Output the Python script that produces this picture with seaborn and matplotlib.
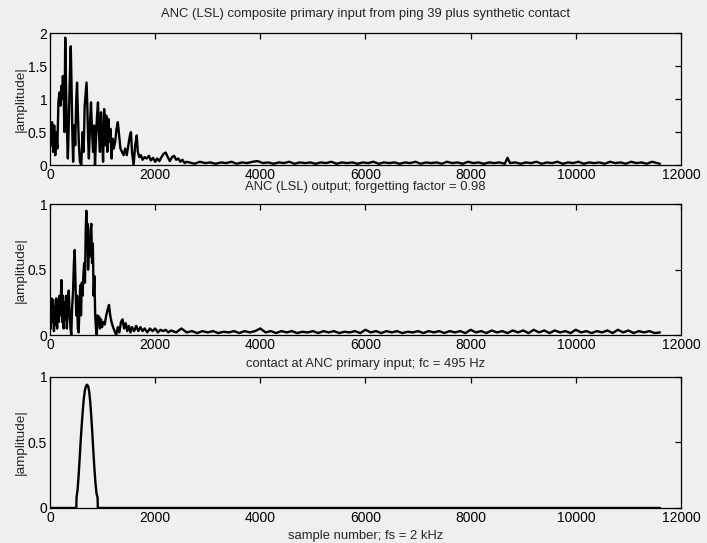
import matplotlib
matplotlib.use("Agg")
import matplotlib.pyplot as plt
import seaborn as sns
import pandas as pd

# ---- composite primary input (ping 39 + synthetic contact) ----
top_samples = [0, 20, 40, 60, 80, 100, 120, 140, 160, 180, 200, 215, 230, 245, 260, 275,
               290, 305, 320, 340, 360, 380, 395, 410, 425, 440, 460, 480, 500, 515, 530,
               550, 570, 595, 620, 640, 660, 680, 695, 710, 725, 740, 760, 780, 800, 820,
               840, 856, 875, 895, 913, 930, 950, 970, 990, 1010, 1030, 1050, 1070, 1090,
               1110, 1130, 1150, 1170, 1190, 1210, 1240, 1265, 1290, 1315, 1340, 1370,
               1400, 1430, 1460, 1490, 1520, 1540, 1560, 1590, 1620, 1650, 1670, 1700,
               1730, 1760, 1800, 1840, 1880, 1920, 1960, 2000, 2040, 2080, 2120, 2160,
               2200, 2240, 2280, 2320, 2360, 2400, 2440, 2480, 2520, 2560, 2600,
               2650, 2750, 2850, 2950, 3050, 3150, 3250, 3350, 3450, 3550, 3650, 3750,
               3850, 3950, 4050, 4150, 4250, 4350, 4450, 4550, 4650, 4750, 4850, 4950,
               5050, 5150, 5250, 5350, 5450, 5550, 5650, 5750, 5850, 5950, 6050, 6150,
               6250, 6350, 6450, 6550, 6650, 6750, 6850, 6950, 7050, 7150, 7250, 7350,
               7450, 7550, 7650, 7750, 7850, 7950, 8050, 8150, 8250, 8350, 8450, 8550,
               8650, 8700, 8750, 8850, 8950, 9050, 9150, 9250, 9350, 9450, 9550, 9650,
               9750, 9850, 9950, 10050, 10150, 10250, 10350, 10450, 10550, 10650, 10750,
               10850, 10950, 11050, 11150, 11250, 11350, 11450, 11550, 11600]
top_amp = [0.55, 0.30, 0.65, 0.20, 0.60, 0.15, 0.50, 0.25, 0.95, 1.10, 0.90, 1.20, 1.00,
           1.35, 1.10, 0.50, 1.93, 1.20, 0.60, 0.10, 0.70, 1.40, 1.80, 1.20, 0.50, 0.05,
           0.60, 0.30, 1.00, 1.25, 0.80, 0.30, 0.05, 0.00, 0.50, 0.20, 0.90, 1.10, 1.25,
           0.90, 0.40, 0.10, 0.60, 0.95, 0.50, 0.20, 0.60, 0.00, 0.40, 0.75, 0.95, 0.50,
           0.20, 0.80, 0.40, 0.05, 0.85, 0.30, 0.75, 0.20, 0.70, 0.35, 0.55, 0.10, 0.40,
           0.25, 0.35, 0.55, 0.65, 0.45, 0.25, 0.20, 0.15, 0.25, 0.15, 0.30, 0.45, 0.50,
           0.20, 0.00, 0.30, 0.45, 0.20, 0.12, 0.15, 0.08, 0.12, 0.10, 0.14, 0.07, 0.11,
           0.05, 0.10, 0.06, 0.12, 0.17, 0.19, 0.12, 0.06, 0.12, 0.14, 0.08, 0.10, 0.05,
           0.08, 0.03, 0.05,
           0.04, 0.02, 0.05, 0.03, 0.04, 0.02, 0.04, 0.03, 0.05, 0.02, 0.04, 0.03,
           0.05, 0.06, 0.03, 0.04, 0.02, 0.04, 0.03, 0.05, 0.02, 0.04, 0.03, 0.04,
           0.02, 0.04, 0.03, 0.05, 0.02, 0.04, 0.03, 0.04, 0.02, 0.04, 0.03, 0.05,
           0.02, 0.04, 0.03, 0.04, 0.02, 0.04, 0.03, 0.05, 0.02, 0.04, 0.03, 0.04,
           0.02, 0.05, 0.03, 0.04, 0.02, 0.05, 0.03, 0.04, 0.02, 0.04, 0.03, 0.04,
           0.02, 0.11, 0.03, 0.04, 0.02, 0.04, 0.03, 0.05, 0.02, 0.04, 0.03, 0.05,
           0.02, 0.04, 0.03, 0.05, 0.02, 0.04, 0.03, 0.04, 0.02, 0.05, 0.03,
           0.04, 0.02, 0.05, 0.03, 0.04, 0.02, 0.05, 0.03, 0.02]

# ---- ANC (LSL) output ----
mid_samples = [0, 15, 30, 45, 60, 75, 90, 105, 120, 135, 150, 165, 180, 200, 216, 230,
               245, 260, 275, 290, 305, 320, 340, 356, 370, 390, 405, 420, 440, 455, 470,
               485, 500, 515, 530, 545, 560, 575, 590, 605, 620, 634, 650, 665, 680, 691,
               705, 715, 725, 740, 755, 770, 786, 800, 815, 830, 845, 860, 875, 890, 905,
               920, 935, 950, 970, 990, 1010, 1040, 1070, 1100, 1122, 1145, 1170, 1200,
               1230, 1260, 1290, 1320, 1350, 1380, 1410, 1440, 1470, 1500, 1530, 1560,
               1600, 1640, 1680, 1720, 1760, 1800, 1850, 1900, 1950, 2000, 2050, 2100,
               2150, 2200, 2250, 2300, 2400, 2500, 2600,
               2700, 2800, 2900, 3000, 3100, 3200, 3300, 3400, 3500, 3600, 3700, 3800,
               3900, 4000, 4100, 4200, 4300, 4400, 4500, 4600, 4700, 4800, 4900, 5000,
               5100, 5200, 5300, 5400, 5500, 5600, 5700, 5800, 5900, 6000, 6100, 6200,
               6300, 6400, 6500, 6600, 6700, 6800, 6900, 7000, 7100, 7200, 7300, 7400,
               7500, 7600, 7700, 7800, 7900, 8000, 8100, 8200, 8300, 8400, 8500, 8600,
               8700, 8800, 8900, 9000, 9100, 9200, 9300, 9400, 9500, 9600, 9700, 9800,
               9900, 10000, 10100, 10200, 10300, 10400, 10500, 10600, 10700, 10800,
               10900, 11000, 11100, 11200, 11300, 11400, 11500, 11600]
mid_amp = [0.25, 0.05, 0.28, 0.10, 0.27, 0.03, 0.22, 0.08, 0.28, 0.05, 0.20, 0.10, 0.30,
           0.15, 0.42, 0.10, 0.30, 0.05, 0.25, 0.12, 0.30, 0.05, 0.20, 0.34, 0.20, 0.05,
           0.00, 0.20, 0.35, 0.55, 0.65, 0.40, 0.15, 0.30, 0.05, 0.02, 0.20, 0.38, 0.15,
           0.40, 0.30, 0.45, 0.55, 0.40, 0.80, 0.95, 0.70, 0.85, 0.50, 0.75, 0.60, 0.80,
           0.85, 0.55, 0.70, 0.30, 0.45, 0.15, 0.05, 0.00, 0.15, 0.08, 0.14, 0.05, 0.12,
           0.06, 0.10, 0.08, 0.15, 0.20, 0.23, 0.15, 0.10, 0.06, 0.03, 0.00, 0.06, 0.02,
           0.10, 0.12, 0.05, 0.09, 0.03, 0.07, 0.02, 0.06, 0.03, 0.07, 0.03, 0.06, 0.03,
           0.05, 0.02, 0.05, 0.03, 0.05, 0.02, 0.04, 0.03, 0.04, 0.02, 0.035, 0.02, 0.05,
           0.02,
           0.03, 0.015, 0.03, 0.02, 0.03, 0.015, 0.025, 0.02, 0.03, 0.015, 0.03, 0.02,
           0.03, 0.05, 0.02, 0.03, 0.015, 0.03, 0.02, 0.03, 0.015, 0.025, 0.02, 0.03,
           0.015, 0.03, 0.02, 0.03, 0.015, 0.025, 0.02, 0.03, 0.015, 0.04, 0.02, 0.03,
           0.015, 0.03, 0.02, 0.03, 0.015, 0.025, 0.02, 0.03, 0.015, 0.03, 0.02, 0.03,
           0.015, 0.03, 0.02, 0.03, 0.015, 0.04, 0.02, 0.03, 0.015, 0.035, 0.02, 0.03,
           0.015, 0.035, 0.02, 0.035, 0.015, 0.04, 0.02, 0.035, 0.015, 0.035, 0.02, 0.03,
           0.015, 0.04, 0.02, 0.03, 0.015, 0.03, 0.02, 0.035, 0.015, 0.04, 0.02,
           0.035, 0.015, 0.03, 0.02, 0.03, 0.015, 0.02]

# ---- synthetic contact (fc = 495 Hz) ----
contact_samples = [0, 500, 505, 525, 545, 565, 585, 605, 625, 645, 665, 685, 705, 725,
                   745, 765, 785, 805, 825, 845, 865, 885, 905, 910, 11600]
contact_amp = [0.0, 0.0, 0.08, 0.14, 0.25, 0.38, 0.52, 0.64, 0.75, 0.84, 0.90, 0.93,
               0.94, 0.93, 0.89, 0.81, 0.70, 0.57, 0.43, 0.30, 0.19, 0.11, 0.08, 0.0, 0.0]

titles = ["ANC (LSL) composite primary input from ping 39 plus synthetic contact",
          "ANC (LSL) output; forgetting factor = 0.98",
          "contact at ANC primary input; fc = 495 Hz"]
x_ticks = [0, 2000, 4000, 6000, 8000, 10000, 12000]
y_limits = [2, 1, 1]
y_ticks = [[0, 0.5, 1, 1.5, 2], [0, 0.5, 1], [0, 0.5, 1]]
y_ticklabels = [["0", "0.5", "1", "1.5", "2"], ["0", "0.5", "1"], ["0", "0.5", "1"]]
xlabel = "sample number; fs = 2 kHz"
ylabel = "|amplitude|"

sns.set_theme(style="white")
plt.rcParams["font.family"] = ["Liberation Sans", "DejaVu Sans"]
bg = "#efefef"

fig = plt.figure(figsize=(7.07, 5.43), dpi=100, facecolor=bg)
boxes = [[0.0707, 0.696, 0.8925, 0.243],
         [0.0707, 0.383, 0.8925, 0.241],
         [0.0707, 0.0645, 0.8925, 0.2415]]
title_pads = [11.5, 10.0, 7.0]

series = [(top_samples, top_amp), (mid_samples, mid_amp), (contact_samples, contact_amp)]

for i, (box, (xs, ys)) in enumerate(zip(boxes, series)):
    ax = fig.add_axes(box)
    ax.set_facecolor(bg)
    df = pd.DataFrame({"sample": xs, "amp": ys})
    sns.lineplot(data=df, x="sample", y="amp", ax=ax, color="black",
                 linewidth=1.7, estimator=None, sort=False)
    ax.set_xlim(0, 12000)
    ax.set_ylim(0, y_limits[i])
    ax.set_xticks(x_ticks)
    ax.set_xticklabels([str(t) for t in x_ticks])
    ax.set_yticks(y_ticks[i])
    ax.set_yticklabels(y_ticklabels[i])
    ax.tick_params(direction="in", length=4, width=0.9, top=True, right=True,
                   labelsize=10, pad=2, colors="black")
    for s in ax.spines.values():
        s.set_visible(True)
        s.set_color("black")
        s.set_linewidth(0.9)
    ax.set_title(titles[i], fontsize=9.4, pad=title_pads[i])
    ax.set_ylabel(ylabel, fontsize=9.7, labelpad=1)
    ax.set_xlabel(xlabel if i == 2 else "", fontsize=9.4, labelpad=4)

fig.savefig("out.png", dpi=100, facecolor=bg)
